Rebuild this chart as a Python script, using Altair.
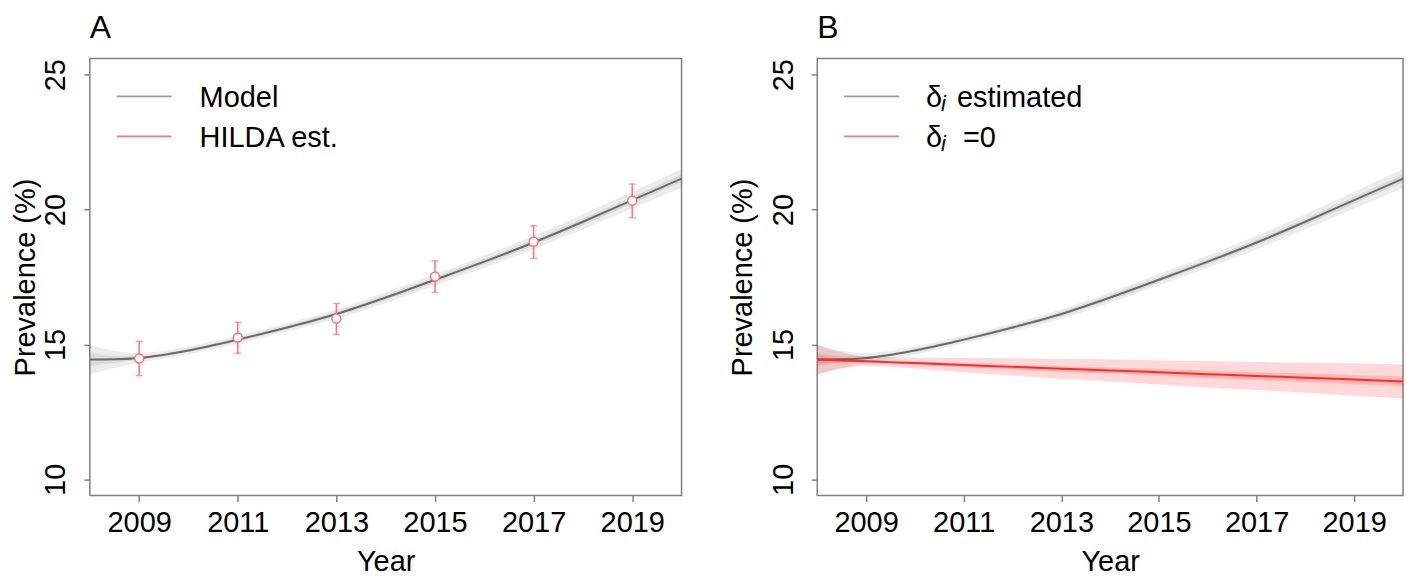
import altair as alt
import pandas as pd

# ---------------- data ----------------
band_years = [2008, 2008.5, 2009, 2010, 2011, 2012, 2013, 2014, 2015, 2016, 2017, 2018, 2019, 2020]

model = [14.44, 14.45, 14.50, 14.78, 15.18, 15.63, 16.13, 16.74, 17.40, 18.07, 18.78, 19.55, 20.35, 21.15]
model_outer_lo = [13.90, 14.13, 14.32, 14.63, 15.03, 15.47, 15.95, 16.54, 17.19, 17.84, 18.53, 19.27, 20.04, 20.80]
model_outer_hi = [14.98, 14.77, 14.68, 14.93, 15.33, 15.79, 16.31, 16.94, 17.61, 18.30, 19.03, 19.83, 20.66, 21.50]
model_inner_lo = [14.20, 14.32, 14.43, 14.72, 15.12, 15.56, 16.05, 16.65, 17.30, 17.97, 18.67, 19.43, 20.22, 21.00]
model_inner_hi = [14.68, 14.58, 14.57, 14.84, 15.24, 15.70, 16.21, 16.83, 17.50, 18.17, 18.89, 19.67, 20.48, 21.30]

delta0 = [14.44, 14.41, 14.38, 14.31, 14.24, 14.17, 14.10, 14.04, 13.97, 13.90, 13.83, 13.77, 13.70, 13.63]
delta0_outer_lo = [13.89, 14.11, 14.21, 14.11, 13.97, 13.85, 13.73, 13.63, 13.52, 13.41, 13.31, 13.21, 13.10, 13.00]
delta0_outer_hi = [14.99, 14.71, 14.55, 14.51, 14.51, 14.49, 14.47, 14.45, 14.42, 14.39, 14.35, 14.33, 14.30, 14.26]
delta0_inner_lo = [14.29, 14.33, 14.33, 14.25, 14.16, 14.08, 14.00, 13.93, 13.84, 13.76, 13.68, 13.61, 13.53, 13.45]
delta0_inner_hi = [14.59, 14.49, 14.43, 14.37, 14.32, 14.26, 14.20, 14.15, 14.10, 14.04, 13.98, 13.93, 13.87, 13.81]

hilda_years = [2009, 2011, 2013, 2015, 2017, 2019]
hilda_est = [14.48, 15.26, 15.96, 17.52, 18.81, 20.33]
hilda_lo = [13.85, 14.67, 15.37, 16.93, 18.19, 19.70]
hilda_hi = [15.12, 15.82, 16.52, 18.10, 19.40, 20.95]

x_ticks = [2009, 2011, 2013, 2015, 2017, 2019]
y_ticks = [10, 15, 20, 25]

legend_a = ["Model", "HILDA est."]
legend_b_rest = ["estimated", "=0"]

# ---------------- styling ----------------
FONT = "Liberation Sans"
FS = 29
GREY_LINE = "#6b6b6b"
GREY_BAND = "#808080"
GREY_LEGEND = "#9a9a9a"
RED_LINE = "#ff2a2a"
RED_BAND = "#ff0000"
HILDA_RED = "#ff7373"
FRAME = "#808080"

curves = pd.DataFrame({
    "year": band_years,
    "model": model,
    "m_out_lo": model_outer_lo, "m_out_hi": model_outer_hi,
    "m_in_lo": model_inner_lo, "m_in_hi": model_inner_hi,
    "d0": delta0,
    "d_out_lo": delta0_outer_lo, "d_out_hi": delta0_outer_hi,
    "d_in_lo": delta0_inner_lo, "d_in_hi": delta0_inner_hi,
})
hilda = pd.DataFrame({"year": hilda_years, "est": hilda_est, "lo": hilda_lo, "hi": hilda_hi})

x_scale = alt.Scale(domain=[2008, 2020], nice=False, zero=False)
y_scale = alt.Scale(domain=[9.4, 25.6], nice=False, zero=False)


def x_axis():
    return alt.Axis(title="Year", values=x_ticks, format="d", grid=False, domain=False,
                    tickSize=6, tickColor=FRAME, tickWidth=1.5,
                    labelFont=FONT, labelFontSize=FS, labelColor="black",
                    labelPadding=30, labelBaseline="alphabetic", labelFlush=False, labelOverlap=False,
                    titleFont=FONT, titleFontSize=FS, titleFontWeight="normal", titleColor="black",
                    titleBaseline="alphabetic", titleY=75)


def y_axis(title_x):
    return alt.Axis(title="Prevalence (%)", values=y_ticks, grid=False, domain=False,
                    tickSize=6, tickColor=FRAME, tickWidth=1.5,
                    labelFont=FONT, labelFontSize=FS, labelColor="black",
                    labelAngle=270, labelAlign="center", labelBaseline="alphabetic",
                    labelPadding=19, labelFlush=False, labelOverlap=False,
                    titleFont=FONT, titleFontSize=FS, titleFontWeight="normal", titleColor="black",
                    titleAngle=270, titleBaseline="alphabetic", titleX=title_x)


def X(field):
    return alt.X(f"{field}:Q", scale=x_scale, axis=x_axis())


def Y(field, title_x):
    return alt.Y(f"{field}:Q", scale=y_scale, axis=y_axis(title_x))


def band(lo, hi, color, title_x):
    return alt.Chart(curves).mark_area(color=color, opacity=0.15, interpolate="monotone").encode(
        x=X("year"), y=Y(lo, title_x), y2=hi)


def line(field, color, title_x, width=2):
    return alt.Chart(curves).mark_line(color=color, strokeWidth=width, interpolate="monotone").encode(
        x=X("year"), y=Y(field, title_x))


def legend_rule(y, color):
    return alt.Chart(pd.DataFrame({"k": [0]})).mark_rule(color=color, strokeWidth=1.6).encode(
        x=alt.value(27), x2=alt.value(82), y=alt.value(y))


def legend_text(text, x, y, fs=FS, italic=False):
    return alt.Chart(pd.DataFrame({"t": [text]})).mark_text(
        align="left", baseline="middle", font=FONT, fontSize=fs, color="black",
        fontStyle="italic" if italic else "normal").encode(
        text="t:N", x=alt.value(x), y=alt.value(y))


def title(letter):
    return alt.TitleParams(letter, anchor="start", frame="group", font=FONT, fontSize=32,
                           fontWeight="normal", color="black", offset=-11, baseline="alphabetic")


# ---------------- panel A ----------------
TXA = -55
errbars = alt.Chart(hilda).mark_rule(color=HILDA_RED, strokeWidth=1.5).encode(
    x=X("year"), y=Y("lo", TXA), y2="hi")
cap_lo = alt.Chart(hilda).mark_tick(color=HILDA_RED, orient="horizontal", size=7, thickness=1.5).encode(
    x=X("year"), y=Y("lo", TXA))
cap_hi = alt.Chart(hilda).mark_tick(color=HILDA_RED, orient="horizontal", size=7, thickness=1.5).encode(
    x=X("year"), y=Y("hi", TXA))
points = alt.Chart(hilda).mark_point(shape="circle", filled=True, fill="white", stroke=HILDA_RED,
                                     strokeWidth=1.5, size=80, opacity=1).encode(
    x=X("year"), y=Y("est", TXA))

panel_a = alt.layer(
    band("m_out_lo", "m_out_hi", GREY_BAND, TXA),
    band("m_in_lo", "m_in_hi", GREY_BAND, TXA),
    line("model", GREY_LINE, TXA),
    errbars, cap_lo, cap_hi, points,
    legend_rule(38, GREY_LEGEND),
    legend_rule(78, HILDA_RED),
    legend_text(legend_a[0], 110, 40),
    legend_text(legend_a[1], 110, 80),
).properties(width=593, height=438, title=title("A"))

# ---------------- panel B ----------------
TXB = -66
panel_b = alt.layer(
    band("m_out_lo", "m_out_hi", GREY_BAND, TXB),
    band("m_in_lo", "m_in_hi", GREY_BAND, TXB),
    line("model", GREY_LINE, TXB),
    band("d_out_lo", "d_out_hi", RED_BAND, TXB),
    band("d_in_lo", "d_in_hi", RED_BAND, TXB),
    line("d0", RED_LINE, TXB),
    legend_rule(38, GREY_LEGEND),
    legend_rule(78, HILDA_RED),
    legend_text("δ", 109, 40),
    legend_text("i", 124, 46, fs=22, italic=True),
    legend_text(legend_b_rest[0], 140, 40),
    legend_text("δ", 109, 80),
    legend_text("i", 124, 86, fs=22, italic=True),
    legend_text(legend_b_rest[1], 146, 80),
).properties(width=587, height=438, title=title("B"))

chart = alt.hconcat(panel_a, panel_b, spacing=136, bounds="flush").properties(
    padding={"left": 3, "top": 2, "right": 0, "bottom": 0}
).configure_view(stroke=FRAME, strokeWidth=1.5)

chart.save("out.html", embed_options={"renderer": "svg", "actions": False})
